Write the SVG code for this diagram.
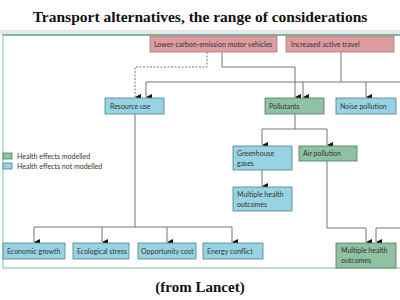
<svg xmlns="http://www.w3.org/2000/svg" width="400" height="300" viewBox="0 0 400 300">
<defs>
<marker id="ah" viewBox="0 0 6 6" refX="3" refY="6" markerWidth="6" markerHeight="6" markerUnits="userSpaceOnUse" orient="auto-start-reverse">
<path d="M0,0 L6,0 L3,6 Z" fill="#111"/>
</marker>
<style>
.t{font-family:"Liberation Serif","Times New Roman",serif;font-weight:bold;fill:#111;text-anchor:middle}
.l{font-family:Lato,"Open Sans",sans-serif;font-size:7px;fill:#333}
.pk{fill:#dc9da0;stroke:#a87a7c;stroke-width:0.8}
.bl{fill:#98d3e3;stroke:#4f7f8c;stroke-width:0.8}
.gr{fill:#8fc1a2;stroke:#4f7c60;stroke-width:0.8}
.c{fill:none;stroke:#777;stroke-width:1}
.a{marker-end:url(#ah)}
</style>
</defs>
<rect width="400" height="300" fill="#fff"/>
<text class="t" x="200" y="22" font-size="15.5">Transport alternatives, the range of considerations</text>
<g id="frame">
<rect x="0" y="30" width="400" height="4" fill="#e6e6e6"/>
<line x1="2" y1="35" x2="400" y2="35" stroke="#4aa982" stroke-width="1.5"/>
<line x1="3" y1="35" x2="3" y2="268" stroke="#a9d6c0" stroke-width="1.5"/>
<line x1="2" y1="268" x2="400" y2="268" stroke="#a9d6c0" stroke-width="1.5"/>
</g>
<g id="connectors">
<path class="c a" d="M207,52 V67 H135 V97" stroke-dasharray="2,1.5"/>
<path class="c a" d="M222,52 V67 H295 V97"/>
<path class="c" d="M341,52 V82"/>
<path class="c" d="M146,82 H400"/>
<path class="c a" d="M146,82 V97"/>
<path class="c a" d="M303,82 V97"/>
<path class="c a" d="M366,82 V97"/>
<path class="c" d="M295,114 V129 M262,129 H327"/>
<path class="c a" d="M262,129 V145"/>
<path class="c a" d="M327,129 V145"/>
<path class="c a" d="M262,170 V186"/>
<path class="c a" d="M327,161 V228 H366 V242"/>
<path class="c a" d="M400,228 H376 V242"/>
<path class="c" d="M135,114 V227 M34,227 H232"/>
<path class="c a" d="M34,227 V242"/>
<path class="c a" d="M102,227 V242"/>
<path class="c a" d="M167,227 V242"/>
<path class="c a" d="M232,227 V242"/>
</g>
<g id="n-lower"><rect class="pk" x="150" y="36" width="127" height="16"/><text class="l" x="154" y="46.5">Lower-carbon-emission motor vehicles</text></g>
<g id="n-active"><rect class="pk" x="286" y="36" width="108" height="16"/><text class="l" x="291" y="46.5">Increased active travel</text></g>
<g id="n-resource"><rect class="bl" x="105" y="98" width="59" height="16"/><text class="l" x="110" y="108.5">Resource use</text></g>
<g id="n-pollutants"><rect class="gr" x="265" y="98" width="59" height="16"/><text class="l" x="269" y="108.5">Pollutants</text></g>
<g id="n-noise"><rect class="bl" x="336" y="98" width="60" height="16"/><text class="l" x="340" y="108.5">Noise pollution</text></g>
<g id="n-ghg"><rect class="bl" x="233" y="146" width="59" height="24"/><text class="l" x="237" y="156">Greenhouse</text><text class="l" x="237" y="165.5">gases</text></g>
<g id="n-air"><rect class="gr" x="299" y="146" width="58" height="15"/><text class="l" x="303" y="156">Air pollution</text></g>
<g id="n-mho1"><rect class="bl" x="233" y="187" width="59" height="24"/><text class="l" x="237" y="197">Multiple health</text><text class="l" x="237" y="206.5">outcomes</text></g>
<g id="n-econ"><rect class="bl" x="3" y="243" width="62" height="16"/><text class="l" x="7" y="253.5">Economic growth</text></g>
<g id="n-eco"><rect class="bl" x="73" y="243" width="56" height="16"/><text class="l" x="77" y="253.5">Ecological stress</text></g>
<g id="n-opp"><rect class="bl" x="138" y="243" width="58" height="16"/><text class="l" x="141" y="253.5">Opportunity cost</text></g>
<g id="n-energy"><rect class="bl" x="203" y="243" width="60" height="16"/><text class="l" x="207" y="253.5">Energy conflict</text></g>
<g id="n-mho2"><rect class="gr" x="336" y="243" width="60" height="25"/><text class="l" x="341" y="253">Multiple health</text><text class="l" x="341" y="262.5">outcomes</text></g>
<g id="legend">
<rect class="gr" x="3" y="153" width="9" height="6"/><text class="l" x="17" y="158.5">Health effects modelled</text>
<rect class="bl" x="3" y="163" width="9" height="6"/><text class="l" x="17" y="168.5">Health effects not modelled</text>
</g>
<text class="t" x="200" y="292" font-size="15">(from Lancet)</text>
</svg>
